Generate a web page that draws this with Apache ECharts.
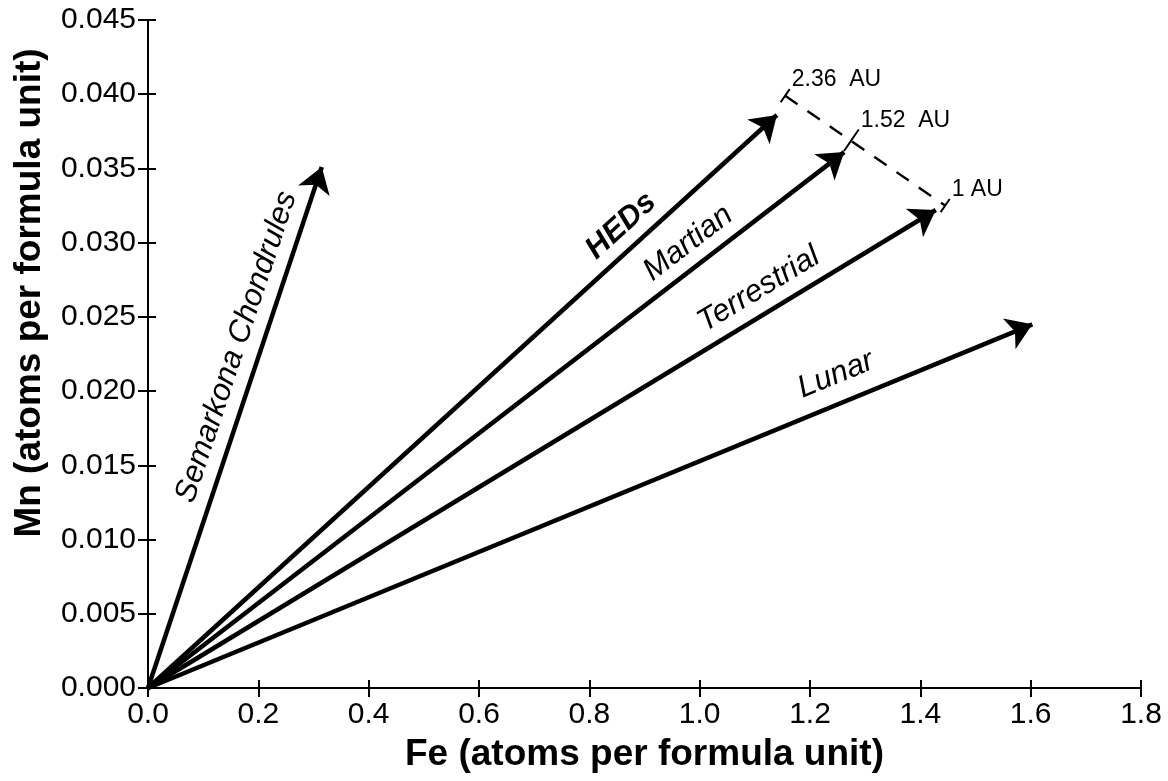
<!DOCTYPE html>
<html>
<head>
<meta charset="utf-8">
<script src="https://cdn.jsdelivr.net/npm/echarts@6/dist/echarts.min.js"></script>
<style>
html,body{margin:0;padding:0;background:#fff;}
#chart{width:1168px;height:781px;}
</style>
</head>
<body>
<div id="chart"></div>
<script>
// ---- data ----
const arrowNames = ['Semarkona Chondrules', 'HEDs', 'Martian', 'Terrestrial', 'Lunar'];
const arrowFe = [0.315, 1.140, 1.262, 1.428, 1.603];
const arrowMn = [0.0351, 0.0386, 0.0361, 0.0322, 0.0245];
const auLabels = ['2.36  AU', '1.52  AU', '1 AU'];
const auFe = [1.155, 1.275, 1.445];
const auMn = [0.0399, 0.0369, 0.0325];
const xTicks = [0, 0.2, 0.4, 0.6, 0.8, 1.0, 1.2, 1.4, 1.6, 1.8];
const yTicks = [0, 0.005, 0.010, 0.015, 0.020, 0.025, 0.030, 0.035, 0.040, 0.045];
const xTitle = 'Fe (atoms per formula unit)';
const yTitle = 'Mn (atoms per formula unit)';

// ---- style ----
const FONT = '"Liberation Sans", Arial, Helvetica, sans-serif';
const labelStyle = [
  {t: 0.64, off: 24, fontWeight: 'normal', outline: false},
  {t: 0.777, off: 23, fontWeight: 'bold', outline: true},
  {t: 0.796, off: 23, fontWeight: 'normal', outline: false},
  {t: 0.791, off: 24, fontWeight: 'normal', outline: false},
  {t: 0.79, off: 28, fontWeight: 'normal', outline: false}
];

const chart = echarts.init(document.getElementById('chart'), null, {renderer: 'canvas'});

const axisCommon = {
  axisLine: {show: true, onZero: false, lineStyle: {color: '#000', width: 2}},
  splitLine: {show: false}
};

const arrowData = arrowNames.map((n, i) => ({coords: [[0, 0], [arrowFe[i], arrowMn[i]]]}));

const option = {
  animation: false,
  backgroundColor: '#fff',
  grid: {left: 148, right: 27, top: 20, bottom: 93, containLabel: false},
  graphic: [{
    type: 'text', x: 30, y: 293, rotation: Math.PI / 2,
    style: {text: yTitle, fill: '#000', font: 'bold 37px ' + FONT,
      textAlign: 'center', textVerticalAlign: 'middle'}
  }],
  xAxis: [{
    type: 'value', min: xTicks[0], max: xTicks[xTicks.length - 1], interval: 0.2,
    ...axisCommon,
    axisTick: {show: true, inside: false, length: 9, lineStyle: {color: '#000', width: 2}},
    axisLabel: {color: '#000', fontSize: 30, fontFamily: FONT, margin: 12,
      formatter: v => v.toFixed(1)},
    name: xTitle, nameLocation: 'middle', nameGap: 48,
    nameTextStyle: {color: '#000', fontSize: 37, fontWeight: 'bold', fontFamily: FONT}
  }, {
    type: 'value', min: xTicks[0], max: xTicks[xTicks.length - 1], interval: 0.2, position: 'bottom',
    ...axisCommon,
    axisTick: {show: true, inside: true, length: 8, lineStyle: {color: '#000', width: 2}},
    axisLabel: {show: false}
  }],
  yAxis: [{
    type: 'value', min: yTicks[0], max: yTicks[yTicks.length - 1], interval: 0.005,
    ...axisCommon,
    axisTick: {show: true, inside: false, length: 10, lineStyle: {color: '#000', width: 2}},
    axisLabel: {color: '#000', fontSize: 30, fontFamily: FONT, margin: 12,
      formatter: v => v.toFixed(3)}
  }, {
    type: 'value', min: yTicks[0], max: yTicks[yTicks.length - 1], interval: 0.005, position: 'left',
    ...axisCommon,
    axisTick: {show: true, inside: true, length: 8, lineStyle: {color: '#000', width: 2}},
    axisLabel: {show: false}
  }],
  series: [
    {
      type: 'lines', coordinateSystem: 'cartesian2d', xAxisIndex: 0, yAxisIndex: 0,
      data: arrowData,
      symbol: ['none', 'arrow'], symbolSize: [18, 25],
      lineStyle: {color: '#000', width: 4.5, opacity: 1, curveness: 0},
      z: 5
    },
    {
      type: 'line', xAxisIndex: 0, yAxisIndex: 0,
      data: [[auFe[0], auMn[0]], [auFe[auFe.length - 1], auMn[auMn.length - 1]]],
      symbol: 'none',
      lineStyle: {color: '#000', width: 2.4, type: [15, 12]},
      z: 4
    },
    {
      type: 'custom', xAxisIndex: 0, yAxisIndex: 0,
      data: auFe.map((v, i) => [v, auMn[i], i]),
      renderItem: function (params, api) {
        const i = api.value(2);
        const p = api.coord([api.value(0), api.value(1)]);
        const a = api.coord([auFe[0], auMn[0]]);
        const b = api.coord([auFe[auFe.length - 1], auMn[auMn.length - 1]]);
        let dx = b[0] - a[0], dy = b[1] - a[1];
        const L = Math.hypot(dx, dy); dx /= L; dy /= L;
        const nx = dy, ny = -dx; // perpendicular pointing up-right
        const half = (i === 1) ? 13 : 8;
        const top = [p[0] + nx * half, p[1] + ny * half];
        return {
          type: 'group',
          children: [{
            type: 'line',
            shape: {x1: p[0] - nx * half, y1: p[1] - ny * half, x2: top[0], y2: top[1]},
            style: {stroke: '#000', lineWidth: 2}
          }, {
            type: 'text',
            style: {x: top[0] + 2, y: top[1] - 9, text: auLabels[i], fill: '#000',
              font: '23px ' + FONT, textAlign: 'left', textVerticalAlign: 'middle'}
          }]
        };
      },
      z: 6
    },
    {
      type: 'custom', xAxisIndex: 0, yAxisIndex: 0,
      data: arrowFe.map((v, i) => [v, arrowMn[i], i]),
      renderItem: function (params, api) {
        const i = api.value(2);
        const o = api.coord([0, 0]);
        const e = api.coord([api.value(0), api.value(1)]);
        const dx = e[0] - o[0], dy = e[1] - o[1];
        const L = Math.hypot(dx, dy);
        const ux = dx / L, uy = dy / L;
        const nx = uy, ny = -ux; // up-left normal
        const s = labelStyle[i];
        const cx = o[0] + dx * s.t + nx * s.off;
        const cy = o[1] + dy * s.t + ny * s.off;
        const ang = Math.atan2(-dy, dx);
        const style = {text: arrowNames[i], fill: '#000',
          font: 'italic ' + s.fontWeight + ' 31px ' + FONT,
          textAlign: 'center', textVerticalAlign: 'middle'};
        if (s.outline) {
          style.stroke = '#fff';
          style.lineWidth = 0.8;
          style.shadowColor = '#000';
          style.shadowBlur = 0;
          style.shadowOffsetX = -1.5;
          style.shadowOffsetY = 1.5;
        }
        return {type: 'text', x: cx, y: cy, rotation: ang, style: style};
      },
      z: 6
    }
  ]
};
chart.setOption(option);
</script>
</body>
</html>
